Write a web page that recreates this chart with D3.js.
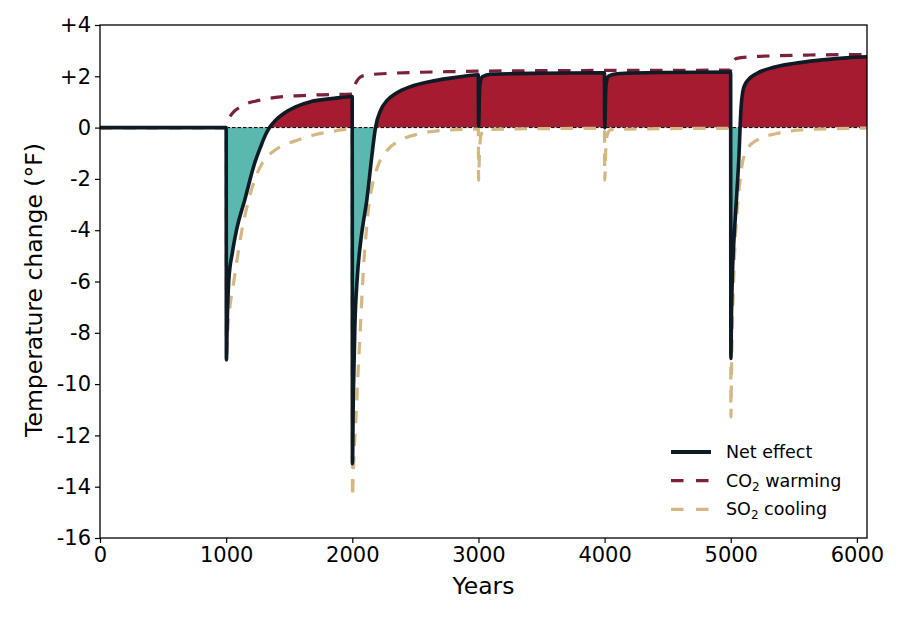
<!DOCTYPE html>
<html>
<head>
<meta charset="utf-8">
<script src="https://cdn.jsdelivr.net/npm/d3@7"></script>
<style>
  html, body { margin: 0; padding: 0; background: #ffffff; }
  svg { display: block; }
  text { font-family: "DejaVu Sans", sans-serif; fill: #000; }
</style>
</head>
<body>
<svg id="chart" width="900" height="619"></svg>
<script>
// ---------------- DATA ----------------
const xTicks = [0, 1000, 2000, 3000, 4000, 5000, 6000];
const yTicks = [4, 2, 0, -2, -4, -6, -8, -10, -12, -14, -16];
const yTickLabels = ["+4", "+2", "0", "-2", "-4", "-6", "-8", "-10", "-12", "-14", "-16"];

const netYears = [0, 1000, 1002, 1008, 1021, 1050, 1082, 1154, 1188, 1225, 1273, 1317, 1344, 1392, 1457, 1550, 1669, 1800, 1900, 1999,
  2001, 2008, 2020, 2040, 2065, 2090, 2113, 2130, 2151, 2185, 2225, 2278, 2344, 2462, 2620, 2778, 2900, 2999,
  3001, 3010, 3030, 3100, 3500, 3999,
  4001, 4010, 4030, 4100, 4500, 4999,
  5001, 5006, 5014, 5024, 5040, 5055, 5066, 5074, 5082, 5095, 5115, 5140, 5206, 5311, 5497, 5708, 5919, 6080];
const netValues = [0, 0, -9.05, -7.7, -5.95, -4.85, -4.0, -2.7, -2.05, -1.4, -0.75, -0.23, 0, 0.29, 0.55, 0.81, 1.01, 1.11, 1.17, 1.21,
  -13.1, -10.5, -7.8, -5.8, -4.5, -3.6, -2.9, -2.2, -1.27, 0.03, 0.68, 1.07, 1.33, 1.6, 1.8, 1.93, 2.01, 2.06,
  0.05, 1.6, 1.98, 2.08, 2.12, 2.14,
  0.0, 1.6, 2.0, 2.1, 2.15, 2.17,
  -9.0, -7.2, -5.6, -4.5, -3.2, -2.0, -1.0, 0.03, 0.8, 1.4, 1.7, 1.87, 2.11, 2.31, 2.5, 2.63, 2.72, 2.76];

const co2Years = [0, 1000, 1008, 1021, 1040, 1061, 1110, 1166, 1230, 1299, 1431, 1695, 1999,
  2010, 2026, 2045, 2066, 2119, 2278, 2489, 2753, 3016, 4000, 5000,
  5008, 5020, 5048, 5153, 5365, 5629, 6080];
const co2Values = [0, 0, 0.2, 0.36, 0.5, 0.62, 0.8, 0.94, 1.03, 1.1, 1.2, 1.27, 1.31,
  1.5, 1.72, 1.88, 1.98, 2.05, 2.11, 2.15, 2.18, 2.2, 2.23, 2.24,
  2.45, 2.58, 2.7, 2.76, 2.8, 2.83, 2.85];

const so2Years = [0, 1000, 1002, 1012, 1030, 1062, 1125, 1185, 1225, 1285, 1370, 1460, 1563, 1695, 1828, 1947, 1999,
  2001, 2008, 2016, 2030, 2045, 2062, 2078, 2095, 2110, 2130, 2162, 2200, 2277, 2383, 2541, 2753, 2999,
  3001, 3008, 3020, 3050, 3500, 3999,
  4001, 4008, 4020, 4050, 4500, 4999,
  5001, 5006, 5014, 5025, 5040, 5058, 5074, 5087, 5127, 5206, 5365, 5629, 6080];
const so2Values = [0, 0, -9.13, -8.0, -7.0, -5.95, -4.0, -2.7, -2.05, -1.4, -0.94, -0.68, -0.49, -0.29, -0.16, -0.07, -0.06,
  -14.4, -13.5, -12.5, -11.2, -9.6, -8.0, -6.4, -5.0, -4.1, -3.09, -2.18, -1.53, -0.88, -0.49, -0.23, -0.1, -0.06,
  -2.05, -1.0, -0.3, -0.08, -0.04, -0.03,
  -2.05, -1.0, -0.3, -0.08, -0.04, -0.03,
  -11.28, -9.5, -7.5, -5.6, -4.0, -2.8, -2.05, -1.53, -0.88, -0.49, -0.23, -0.07, -0.02];

// ---------------- CHART ----------------
const W = 900, H = 619;
const margin = { left: 100, right: 33, top: 25, bottom: 81 };
const svg = d3.select("#chart");

const x = d3.scaleLinear().domain([0, 6080]).range([margin.left, W - margin.right]);
const y = d3.scaleLinear().domain([-16, 4]).range([H - margin.bottom, margin.top]);

const netColor = "#0E1A24";
const co2Color = "#7C2238";
const so2Color = "#D3B883";
const tealFill = "#5BB8AF";
const crimsonFill = "#A51C30";

const net = netYears.map((d, i) => [d, netValues[i]]);
const co2 = co2Years.map((d, i) => [d, co2Values[i]]);
const so2 = so2Years.map((d, i) => [d, so2Values[i]]);

const defs = svg.append("defs");
defs.append("clipPath").attr("id", "plotClip").append("rect")
  .attr("x", x.range()[0]).attr("y", y.range()[1])
  .attr("width", x.range()[1] - x.range()[0]).attr("height", y.range()[0] - y.range()[1]);
defs.append("clipPath").attr("id", "above").append("rect")
  .attr("x", x.range()[0]).attr("y", y.range()[1])
  .attr("width", x.range()[1] - x.range()[0]).attr("height", y(0) - y.range()[1]);
defs.append("clipPath").attr("id", "below").append("rect")
  .attr("x", x.range()[0]).attr("y", y(0))
  .attr("width", x.range()[1] - x.range()[0]).attr("height", y.range()[0] - y(0));

const curve = d3.curveMonotoneX;
const area = d3.area().x(d => x(d[0])).y0(y(0)).y1(d => y(d[1])).curve(curve);
const line = d3.line().x(d => x(d[0])).y(d => y(d[1])).curve(curve);

const plot = svg.append("g").attr("clip-path", "url(#plotClip)");
plot.append("path").datum(net).attr("d", area).attr("fill", crimsonFill).attr("clip-path", "url(#above)");
plot.append("path").datum(net).attr("d", area).attr("fill", tealFill).attr("clip-path", "url(#below)");

// zero reference line
plot.append("line")
  .attr("x1", x.range()[0]).attr("x2", x.range()[1])
  .attr("y1", y(0)).attr("y2", y(0))
  .attr("stroke", "#000").attr("stroke-width", 1).attr("stroke-dasharray", "3.5,2");

plot.append("path").datum(co2).attr("d", line)
  .attr("fill", "none").attr("stroke", co2Color).attr("stroke-width", 3.2)
  .attr("stroke-dasharray", "12.5,10.5");
plot.append("path").datum(so2).attr("d", line)
  .attr("fill", "none").attr("stroke", so2Color).attr("stroke-width", 3.2)
  .attr("stroke-dasharray", "12.5,10.5");
plot.append("path").datum(net).attr("d", line)
  .attr("fill", "none").attr("stroke", netColor).attr("stroke-width", 3.6)
  .attr("stroke-linejoin", "round").attr("stroke-linecap", "round");

// axes
const xAxis = d3.axisBottom(x).tickValues(xTicks).tickSize(5).tickPadding(4).tickFormat(d3.format("d"));
const yAxis = d3.axisLeft(y).tickValues(yTicks).tickSize(5).tickPadding(4)
  .tickFormat((d, i) => yTickLabels[i]);

const gx = svg.append("g").attr("transform", `translate(0,${y.range()[0]})`).call(xAxis);
const gy = svg.append("g").attr("transform", `translate(${x.range()[0]},0)`).call(yAxis);
[gx, gy].forEach(g => {
  g.select(".domain").remove();
  g.selectAll(".tick line").attr("stroke", "#000").attr("stroke-width", 1.2);
  g.selectAll(".tick text").attr("font-size", 21).attr("font-family", "DejaVu Sans").attr("fill", "#000");
});

// frame (spines)
svg.append("rect")
  .attr("x", x.range()[0]).attr("y", y.range()[1])
  .attr("width", x.range()[1] - x.range()[0]).attr("height", y.range()[0] - y.range()[1])
  .attr("fill", "none").attr("stroke", "#000").attr("stroke-width", 1.3);

// axis titles
svg.append("text")
  .attr("x", (x.range()[0] + x.range()[1]) / 2).attr("y", 594)
  .attr("text-anchor", "middle").attr("font-size", 23.5).text("Years");
svg.append("text")
  .attr("transform", `translate(42,290) rotate(-90)`)
  .attr("text-anchor", "middle").attr("font-size", 23.5).text("Temperature change (°F)");

// legend
const legend = svg.append("g").attr("transform", "translate(670,452)");
const legendItems = [
  { color: netColor, dash: null, width: 4, main: "Net effect", sub: null, tail: null },
  { color: co2Color, dash: "12.5,12.5", width: 3.2, main: "CO", sub: "2", tail: " warming" },
  { color: so2Color, dash: "12.5,12.5", width: 3.2, main: "SO", sub: "2", tail: " cooling" }
];
legendItems.forEach((it, i) => {
  const g = legend.append("g").attr("transform", `translate(0,${i * 28.7})`);
  g.append("line").attr("x1", 1).attr("x2", 41).attr("y1", 0).attr("y2", 0)
    .attr("stroke", it.color).attr("stroke-width", it.width)
    .attr("stroke-dasharray", it.dash);
  const t = g.append("text").attr("x", 56).attr("y", 6).attr("font-size", 17.5);
  t.append("tspan").text(it.main);
  if (it.sub) {
    t.append("tspan").attr("dy", 4).attr("font-size", 12).text(it.sub);
    t.append("tspan").attr("dy", -4).text(it.tail);
  }
});
</script>
</body>
</html>
